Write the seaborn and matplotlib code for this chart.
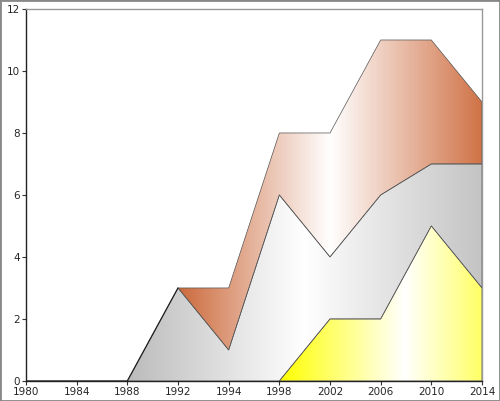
import matplotlib
matplotlib.use("Agg")
import matplotlib.pyplot as plt
from matplotlib.colors import LinearSegmentedColormap
import numpy as np
import seaborn as sns

years = ["1980", "1984", "1988", "1992", "1994", "1998", "2002", "2006", "2010", "2014"]
yellow = [0, 0, 0, 0, 0, 0, 2, 2, 5, 3]
silver = [0, 0, 0, 3, 1, 6, 2, 4, 2, 4]
copper = [0, 0, 0, 0, 2, 2, 4, 5, 4, 2]

# values, left colour, white position, right colour, first index
series = [
    (yellow, "#ffff00", 0.62, "#ffff66", 5),
    (silver, "#bbbbbb", 0.5, "#c4c4c4", 2),
    (copper, "#cc6a3c", 0.5, "#d07246", 3),
]

sns.set_style("white")
plt.rcParams["font.family"] = ["DejaVu Sans"]

fig = plt.figure(figsize=(5, 4.01), dpi=100)
ax = fig.add_axes([0.052, 0.05, 0.912, 0.9276])
x = np.arange(len(years))

base = np.zeros(len(years))
for vals, c0, mid, c1, start in series:
    top = base + np.array(vals, dtype=float)
    poly = ax.fill_between(x[start:], base[start:], top[start:], facecolor="none",
                           edgecolor="#555555", lw=0.5, zorder=3)
    # horizontal gradient colour -> white -> colour, clipped to the area
    cmap = LinearSegmentedColormap.from_list(
        "g", [(0, c0), (mid, "#ffffff"), (1, c1)])
    grad = np.linspace(0, 1, 256).reshape(1, -1)
    im = ax.imshow(grad, cmap=cmap, aspect="auto",
                   extent=[x[start], x[-1], 0, 12], zorder=2)
    im.set_clip_path(poly.get_paths()[0], transform=ax.transData)
    base = top

# dark outline along zero and up the first slope
ax.plot(x[:4], [0, 0, 0, 3], color="#222222", lw=0.9, zorder=4)

ax.set_xlim(0, len(years) - 1)
ax.set_ylim(0, 12)
ax.set_xticks(x)
ax.set_xticklabels(years)
ax.set_yticks(range(0, 13, 2))
ax.tick_params(axis="both", labelsize=7.5, length=3, width=0.8, color="#333333",
               left=True, bottom=True, pad=1.5)
for s in ["left", "bottom"]:
    ax.spines[s].set_color("#222222")
    ax.spines[s].set_linewidth(1.0)
for s in ["top", "right"]:
    ax.spines[s].set_color("#999999")
    ax.spines[s].set_linewidth(1.0)

fig.patches.append(plt.Rectangle((0, 0), 1, 1, transform=fig.transFigure,
                                 fill=False, edgecolor="#888888", lw=2))
fig.savefig("out.png", dpi=100)
